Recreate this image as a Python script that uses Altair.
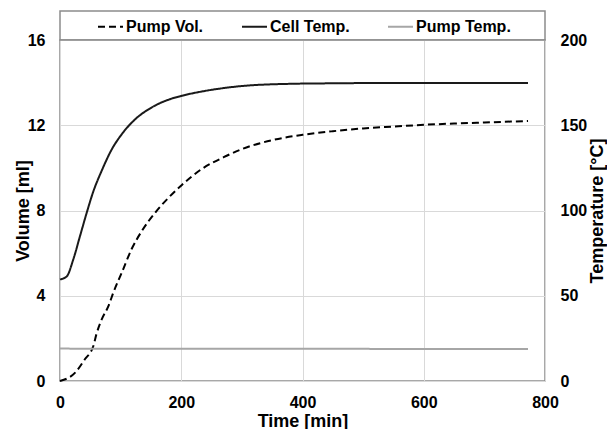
import altair as alt
import pandas as pd

# ---------------- data ----------------
series_names = ["Pump Vol.", "Cell Temp.", "Pump Temp."]
series_colors = ["#000000", "#1a1a1a", "#a6a6a6"]
series_dash = [[7, 4], [1, 0], [1, 0]]

vol_time = [0, 25, 41, 55, 60, 69, 80, 88, 102, 118, 135, 157, 179, 201, 234,
            270, 300, 350, 400, 450, 500, 550, 600, 650, 700, 772]
vol_ml = [0.0, 0.39, 1.02, 1.64, 2.19, 2.90, 3.52, 4.15, 5.09, 6.18, 7.04, 7.90,
          8.60, 9.20, 9.95, 10.50, 10.88, 11.30, 11.55, 11.72, 11.85, 11.94,
          12.02, 12.08, 12.13, 12.20]

cell_time = [0, 11, 22, 33, 44, 55, 69, 85, 102, 124, 151, 184, 201, 234, 270,
             300, 380, 450, 550, 650, 772]
cell_temp = [59.6, 61.3, 71.4, 85.0, 98.6, 111.2, 123.5, 135.6, 144.8, 153.5,
             160.4, 165.6, 167.3, 169.8, 171.8, 173.0, 174.3, 174.6, 174.8,
             174.8, 174.8]

pump_temp_time = [0, 200, 400, 600, 772]
pump_temp = [19.0, 18.9, 18.9, 18.8, 18.8]

x_ticks = [0, 200, 400, 600, 800]
vol_ticks = [0, 4, 8, 12, 16]
temp_ticks = [0, 50, 100, 150, 200]

# ---------------- tables ----------------
vol_df = pd.DataFrame({"t": vol_time, "v": vol_ml, "series": series_names[0]})
temp_df = pd.concat([
    pd.DataFrame({"t": cell_time, "v": cell_temp, "series": series_names[1]}),
    pd.DataFrame({"t": pump_temp_time, "v": pump_temp, "series": series_names[2]}),
], ignore_index=True)

FONT = "Liberation Sans"
W, H = 485, 341

color = alt.Color("series:N",
                  scale=alt.Scale(domain=series_names, range=series_colors),
                  legend=alt.Legend(title=None, orient="none", direction="horizontal",
                                    legendX=37, legendY=-27, symbolType="stroke",
                                    symbolSize=625, symbolStrokeWidth=2,
                                    labelFont=FONT, labelFontSize=16,
                                    labelFontWeight="bold", labelColor="#000",
                                    labelOffset=2, columnPadding=34, padding=0))
dash = alt.StrokeDash("series:N",
                      scale=alt.Scale(domain=series_names, range=series_dash),
                      legend=None)

xenc = alt.X("t:Q", scale=alt.Scale(domain=[0, 800], nice=False),
             axis=alt.Axis(title="Time [min]", values=x_ticks, format="d",
                           labelFlush=False, labelPadding=13, titlePadding=2))

frame = alt.Chart(pd.DataFrame({"k": [0]})).mark_rect(
    filled=False, stroke="#8c8c8c", strokeWidth=1.5
).encode(x=alt.value(0), x2=alt.value(W), y=alt.value(-29), y2=alt.value(0))

vol_line = alt.Chart(vol_df).mark_line(strokeWidth=2, interpolate="monotone").encode(
    x=xenc,
    y=alt.Y("v:Q", scale=alt.Scale(domain=[0, 16], nice=False),
            axis=alt.Axis(title="Volume [ml]", values=vol_ticks, orient="left",
                          labelPadding=15, titlePadding=-5)),
    color=color, strokeDash=dash, order="t:Q",
)

temp_line = alt.Chart(temp_df).mark_line(strokeWidth=2, interpolate="monotone").encode(
    x=alt.X("t:Q"),
    y=alt.Y("v:Q", scale=alt.Scale(domain=[0, 200], nice=False),
            axis=alt.Axis(title="Temperature [°C]", values=temp_ticks, orient="right",
                          grid=False, labelPadding=15, titlePadding=20,
                          titleAngle=270)),
    color=color, strokeDash=dash, order="t:Q",
)

chart = alt.layer(
    alt.layer(frame, vol_line),
    temp_line,
).resolve_scale(y="independent").properties(
    width=W, height=H,
    autosize=alt.AutoSizeParams(type="none"),
    padding={"left": 52, "top": 32, "right": 62, "bottom": 48},
    background="white",
).configure_view(
    stroke="#8c8c8c", strokeWidth=1.5
).configure_axis(
    labelFont=FONT, labelFontSize=16, labelFontWeight="bold", labelColor="#000",
    titleFont=FONT, titleFontSize=18, titleFontWeight="bold", titleColor="#000",
    domain=False, ticks=False, gridColor="#d9d9d9", gridWidth=1,
)

chart.save("out.html", embed_options={"renderer": "svg", "actions": False})
